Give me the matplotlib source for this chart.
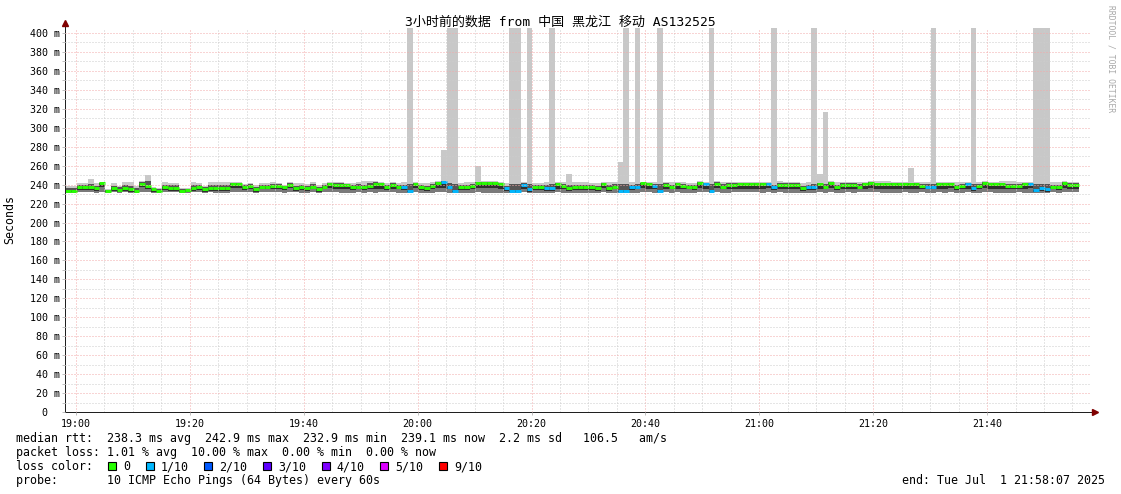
import numpy as np
import pandas as pd
import matplotlib
matplotlib.use('Agg')
import matplotlib.pyplot as plt
import matplotlib.dates as mdates
from matplotlib.patches import Rectangle
from matplotlib.ticker import MultipleLocator, FuncFormatter

W, H = 1121, 494
plt.rcParams['font.family'] = ['DejaVu Sans Mono', 'Noto Sans CJK SC']

start = '2025-07-01 18:58:07'
end = '2025-07-01 21:58:07'
title = '3小时前的数据 from 中国 黑龙江 移动 AS132525'

# one value per minute, ms
rtt_median = [
    233, 233, 237, 237, 237, 236, 241.5, 233, 236, 234, 236, 235.5, 233, 241, 238.5, 235, 233.5, 237.5, 236.5, 236.5,
    233, 234, 236, 237.5, 235, 236, 236.5, 236.5, 236.5, 240.5, 240.5, 237, 239, 235.5, 238, 238, 239, 239, 237, 240,
    236, 237, 236, 238, 235, 238, 241, 240, 240, 240, 237, 238, 237, 239, 240.5, 240.5, 237, 240, 238, 237,
    233.5, 241, 237, 236, 239, 241.5, 242.5, 238, 233.5, 237, 237, 239, 241.5, 241.5, 241.5, 241.5, 240.5, 236, 233.5, 233.5,
    240, 235, 237, 237, 236, 236, 240.5, 239, 236, 237, 237, 237, 237, 236, 241, 236, 238, 233.5, 233.5, 237,
    238, 241.5, 240.5, 239, 233.5, 240, 238, 240.5, 239, 238, 237, 241.5, 240.5, 233.5, 241, 238, 240, 240, 240.5, 240.5,
    240.5, 240.5, 240.5, 241, 237, 240, 240, 240, 240, 236, 237.5, 237.5, 240.5, 238, 241.5, 237, 240, 240, 240, 238,
    240.5, 241.5, 240.5, 240.5, 240.5, 240.5, 240.5, 240.5, 240.5, 240.5, 239, 238, 238, 240.5, 240.5, 241, 237.5, 239, 240.5, 236,
    239, 241.5, 240.5, 240.5, 240.5, 239, 239, 239, 240.5, 241, 234, 236, 235, 238, 237, 241.5, 240, 240,
]
rtt_max = [
    239, 239, 242, 242, 245.5, 242, 242.5, 235, 242, 239, 242.5, 242.5, 239, 243.5, 250, 237, 236, 242.5, 242, 242,
    236, 236, 243, 242, 239, 242.5, 243, 243, 242.5, 243, 243, 241, 242, 240, 242, 242, 243, 242, 240, 243,
    242, 242, 241, 243, 240, 242, 243, 243, 243, 242, 242, 243, 244, 244, 244, 243, 242, 243, 242, 243,
    410, 243, 242, 242, 243, 244, 277, 410, 410, 242, 243, 243, 260, 244, 244, 244, 243, 242, 410, 410,
    243, 410, 242, 242, 243, 410, 243, 243, 251, 243, 243, 243, 242, 242, 243, 243, 243, 264, 410, 243,
    410, 243, 243, 243, 410, 243, 243, 243, 243, 242, 242, 244, 243, 410, 244, 243, 243, 243, 243, 243,
    243, 243, 243, 243, 410, 244, 243, 243, 243, 242, 243, 410, 251, 317, 244, 243, 243, 243, 243, 243,
    243, 244, 244, 244, 244, 243, 243, 243, 258, 243, 243, 243, 410, 243, 243, 243, 243, 243, 243, 410,
    243, 244, 243, 243, 244, 244, 244, 243, 243, 243, 410, 410, 410, 243, 243, 244, 243, 243,
]
rtt_hi = [
    236, 236, 240, 240, 241, 239, 242, 234, 239, 237, 240, 239, 236, 243, 244, 236, 235, 240, 240, 240,
    235, 235, 240, 240, 237, 240, 240, 240, 240, 242, 242, 240, 241, 238, 240, 240, 241, 241, 239, 242,
    239, 240, 239, 241, 238, 240, 242, 242, 242, 241, 240, 241, 240, 242, 243, 242, 240, 242, 240, 240,
    241, 242, 240, 239, 241, 243, 244, 242, 241, 240, 240, 241, 243, 243, 243, 243, 242, 239, 241, 241,
    242, 241, 240, 240, 240, 241, 242, 241, 240, 240, 240, 240, 240, 239, 242, 240, 241, 241, 241, 240,
    241, 242, 242, 241, 241, 242, 240, 242, 241, 240, 240, 243, 242, 241, 243, 241, 242, 242, 242, 242,
    242, 242, 242, 242, 240, 242, 242, 242, 242, 239, 240, 241, 242, 241, 243, 240, 242, 242, 242, 241,
    242, 243, 242, 242, 242, 242, 242, 242, 242, 242, 241, 241, 241, 242, 242, 242, 240, 241, 242, 241,
    241, 243, 242, 242, 242, 241, 241, 241, 242, 242, 241, 241, 241, 240, 240, 243, 242, 242,
]
rtt_lo = [
    232, 232, 234, 234, 234, 233, 237, 232, 233, 232, 233, 232, 232, 237, 235, 232, 232, 234, 233, 233,
    232, 232, 233, 234, 232, 233, 233, 233, 233, 236, 236, 234, 235, 232, 235, 235, 235, 235, 234, 236,
    233, 234, 233, 235, 232, 235, 236, 235, 235, 235, 234, 235, 234, 235, 235, 235, 234, 235, 235, 234,
    232, 236, 234, 233, 235, 236, 236, 235, 232, 234, 234, 235, 236, 236, 236, 236, 235, 233, 232, 232,
    235, 232, 234, 234, 233, 233, 235, 235, 233, 234, 234, 234, 234, 233, 236, 233, 235, 232, 232, 234,
    235, 236, 235, 235, 232, 235, 235, 235, 235, 235, 234, 236, 235, 232, 236, 235, 235, 235, 235, 235,
    235, 235, 235, 236, 234, 235, 235, 235, 235, 233, 234, 234, 235, 235, 236, 234, 235, 235, 235, 235,
    235, 236, 235, 235, 235, 235, 235, 235, 235, 235, 235, 235, 235, 235, 235, 236, 234, 235, 235, 233,
    235, 236, 235, 235, 235, 235, 235, 235, 235, 236, 232, 233, 232, 235, 234, 236, 235, 235,
]
rtt_min = [
    231, 231, 232, 232, 232, 231, 232, 231, 232, 231, 232, 231, 231, 232, 232, 231, 231, 232, 232, 232,
    231, 231, 232, 232, 231, 232, 231, 231, 231, 232, 232, 232, 232, 231, 232, 232, 232, 232, 231, 232,
    232, 231, 231, 232, 231, 232, 232, 232, 231, 231, 231, 232, 231, 232, 231, 232, 232, 232, 231, 231,
    231, 232, 231, 231, 231, 232, 232, 231, 231, 231, 231, 231, 232, 231, 231, 231, 231, 231, 231, 231,
    232, 231, 231, 231, 231, 231, 232, 231, 231, 231, 231, 231, 231, 231, 232, 231, 231, 231, 231, 231,
    231, 232, 232, 231, 231, 232, 231, 232, 231, 231, 231, 232, 232, 231, 232, 231, 231, 232, 232, 232,
    232, 232, 231, 232, 231, 232, 231, 231, 231, 231, 231, 231, 232, 231, 232, 231, 231, 232, 231, 232,
    232, 232, 232, 231, 231, 231, 231, 232, 231, 231, 232, 231, 231, 232, 231, 232, 231, 231, 232, 231,
    231, 232, 232, 231, 231, 231, 231, 232, 231, 231, 231, 231, 231, 232, 231, 232, 232, 232,
]
# minutes where 1 of 10 pings was lost
loss_minutes = [59, 60, 66, 67, 68, 77, 78, 79, 80, 81, 84, 85, 97, 98, 99, 100, 103, 104,
                112, 113, 123, 124, 130, 131, 151, 152, 158, 159, 169, 170, 171, 172]

loss_colors = ['#26ff00', '#00b8ff', '#0059ff', '#5e00ff', '#7e00ff', '#dd00ff', '#ff0000']
loss_labels = ['0', '1/10', '2/10', '3/10', '4/10', '5/10', '9/10']

legend_rtt = 'median rtt:  238.3 ms avg  242.9 ms max  232.9 ms min  239.1 ms now  2.2 ms sd   106.5   am/s'
legend_loss = 'packet loss: 1.01 % avg  10.00 % max  0.00 % min  0.00 % now'
legend_probe = 'probe:       10 ICMP Echo Pings (64 Bytes) every 60s'
legend_end = 'end: Tue Jul  1 21:58:07 2025'

n = len(rtt_median)
edges = mdates.date2num(pd.date_range(start, periods=n + 1, freq='min').to_pydatetime())
loss = np.zeros(n, dtype=int)
loss[loss_minutes] = 1

fig = plt.figure(figsize=(W / 100, H / 100), dpi=100)
ax = fig.add_axes([65.3 / W, 1 - 412 / H, (1090.2 - 65.3) / W, (412 - 28) / H])

# smoke
ax.stairs(rtt_lo, edges, baseline=rtt_min, fill=True, color='#7a7a7a', lw=0)
ax.stairs(rtt_median, edges, baseline=rtt_lo, fill=True, color='#2e2e2e', lw=0)
ax.stairs(rtt_hi, edges, baseline=rtt_median, fill=True, color='#555555', lw=0)
ax.stairs(rtt_max, edges, baseline=rtt_hi, fill=True, color='#c8c8c8', lw=0)

# median coloured by loss
ax.hlines(rtt_median, edges[:-1], edges[1:], colors=[loss_colors[l] for l in loss],
          lw=2.1, capstyle='butt', zorder=2)

ax.set_xlim(mdates.date2num(pd.Timestamp(start)), mdates.date2num(pd.Timestamp(end)))
ax.set_ylim(0, 405.3)
ax.xaxis.set_major_locator(mdates.MinuteLocator(byminute=[0, 20, 40]))
ax.xaxis.set_minor_locator(mdates.MinuteLocator(byminute=range(0, 60, 5)))
ax.xaxis.set_major_formatter(mdates.DateFormatter('%H:%M'))
ax.yaxis.set_major_locator(MultipleLocator(20))
ax.yaxis.set_minor_locator(MultipleLocator(10))
ax.yaxis.set_major_formatter(FuncFormatter(lambda v, p: f'{v:.0f} m' if v else '0  '))

ax.grid(which='minor', color='#cccccc', lw=0.72, ls=(0, (1, 2)))
ax.grid(which='major', color='#f3aaaa', lw=0.72, ls=(0, (1, 2)))
ax.set_axisbelow(False)

ax.tick_params(which='both', direction='out', length=2.2, width=0.72, color='#c0c0c0',
               labelsize=7.2, pad=1.6)
ax.tick_params(axis='x', which='minor', length=0)
ax.tick_params(axis='x', which='major', pad=2.5)
for s in ['top', 'right']:
    ax.spines[s].set_visible(False)
for s in ['left', 'bottom']:
    ax.spines[s].set_color('#202020')
    ax.spines[s].set_linewidth(0.72)

# axis arrows
ax.plot([1, 1 + 4 / 1025], [0, 0], color='#202020', lw=0.72, transform=ax.transAxes, clip_on=False)
ax.plot([1 + 5 / 1025], [0], marker='>', ms=4.5, color='#800000', transform=ax.transAxes, clip_on=False)
ax.plot([0, 0], [1, 1 + 4 / 384], color='#202020', lw=0.72, transform=ax.transAxes, clip_on=False)
ax.plot([0], [1 + 5 / 384], marker='^', ms=4.5, color='#800000', transform=ax.transAxes, clip_on=False)


def px_text(x, y, s, **kw):
    fig.text(x / W, 1 - y / H, s, **kw)


px_text(560.5, 26, title, ha='center', va='baseline', fontsize=9.4)
px_text(10, 219, 'Seconds', rotation=90, ha='center', va='center', fontsize=8.4)
px_text(1111, 5, 'RRDTOOL / TOBI OETIKER', rotation=270, ha='center', va='top',
        fontsize=5.8, color='#a8a8a8')

px_text(16, 442, legend_rtt, fontsize=8.4, va='baseline')
px_text(16, 456, legend_loss, fontsize=8.4, va='baseline')
px_text(16, 470, 'loss color:', fontsize=8.4, va='baseline')
px_text(16, 484, legend_probe, fontsize=8.4, va='baseline')
px_text(1105, 484, legend_end, fontsize=8.4, va='baseline', ha='right')

x = 108
for c, lab in zip(loss_colors, loss_labels):
    fig.add_artist(Rectangle((x / W, 1 - 470 / H), 8 / W, 8.5 / H, transform=fig.transFigure,
                             facecolor=c, edgecolor='black', lw=0.8))
    px_text(x + 15, 470, lab, fontsize=8.4, va='baseline')
    x += 15 + len(lab) * 7.05 + 15.5

fig.savefig('out.png', dpi=100)
